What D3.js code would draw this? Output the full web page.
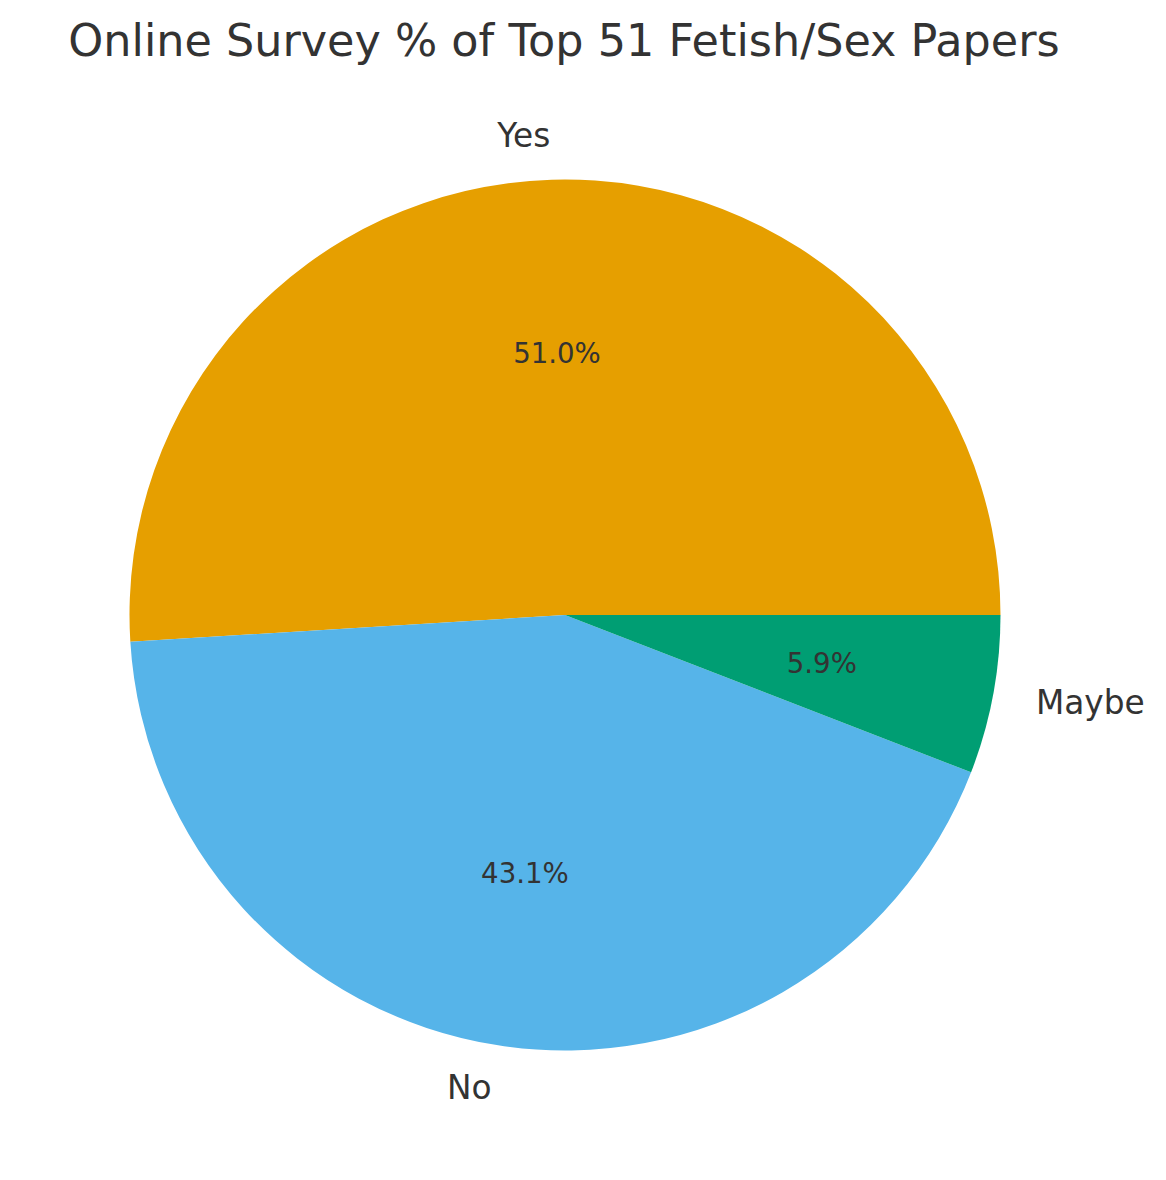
<!DOCTYPE html>
<html><head><meta charset="utf-8">
<script src="https://cdn.jsdelivr.net/npm/d3@7"></script>
<style>body{margin:0;background:#fff}svg{display:block}</style>
</head><body><svg id="c" width="1166" height="1180"></svg>
<script>
const categories = ["Yes", "No", "Maybe"];
const counts = [26, 22, 3];
const colors = ["#E69F00", "#56B4E9", "#009E73"];
const title = "Online Survey % of Top 51 Fetish/Sex Papers";

const W = 1166, H = 1180, cx = 565, cy = 615, R = 435.5;
const svg = d3.select("#c");
svg.append("rect").attr("width", W).attr("height", H).attr("fill", "#fff");
const font = "'DejaVu Sans', sans-serif";
const tc = "#333333";

svg.append("text").attr("x", 564).attr("y", 40).attr("text-anchor", "middle")
  .attr("dominant-baseline", "central").attr("font-family", font).attr("font-size", 44.5)
  .attr("fill", tc).text(title);

const total = d3.sum(counts);
// matplotlib style: start at 3 o'clock, counterclockwise
const pie = d3.pie().sort(null).startAngle(Math.PI / 2).endAngle(Math.PI / 2 - 2 * Math.PI);
const arcs = pie(counts);
const arc = d3.arc().innerRadius(0).outerRadius(R);
const g = svg.append("g").attr("transform", `translate(${cx},${cy})`);
g.selectAll("path").data(arcs).join("path").attr("d", arc)
  .attr("fill", (d, i) => colors[i]);

function pos(d, r) {
  const a = (d.startAngle + d.endAngle) / 2; // d3 angle: 0 at top, clockwise
  return [r * Math.sin(a), -r * Math.cos(a)];
}
arcs.forEach((d, i) => {
  const [lx, ly] = pos(d, 1.1 * R);
  g.append("text").attr("x", lx).attr("y", ly)
    .attr("text-anchor", lx < 0 ? "end" : "start")
    .attr("dominant-baseline", "central")
    .attr("font-family", font).attr("font-size", 32.8).attr("fill", tc)
    .text(categories[i]);
  const [px, py] = pos(d, 0.6 * R);
  g.append("text").attr("x", px).attr("y", py)
    .attr("text-anchor", "middle").attr("dominant-baseline", "central")
    .attr("font-family", font).attr("font-size", 27.6).attr("fill", tc)
    .text((counts[i] / total * 100).toFixed(1) + "%");
});
</script></body></html>
